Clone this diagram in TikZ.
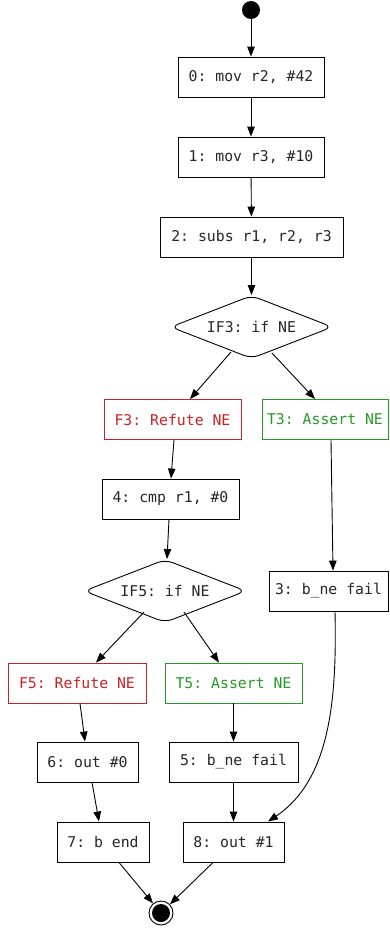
\documentclass[tikz,border=0pt]{standalone}
\usepackage{fontspec}
\setmonofont{DejaVu Sans Mono}
\usetikzlibrary{arrows.meta,shapes.geometric}
\definecolor{refred}{HTML}{C82222}
\definecolor{refgreen}{HTML}{259A25}
\tikzset{
  op/.style={draw, rectangle, line width=0.9pt, minimum height=40pt, inner sep=0pt,
             font=\ttfamily\fontsize{14.8}{14.8}\selectfont, text=black!85},
  cond/.style={draw, diamond, aspect=3, rounded corners=8pt, minimum width=162pt,
             minimum height=63pt, inner sep=0pt, line width=0.9pt,
             font=\ttfamily\fontsize{14.8}{14.8}\selectfont, text=black!85},
  falsebox/.style={op, draw=refred, text=refred},
  truebox/.style={op, draw=refgreen, text=refgreen},
  flow/.style={line width=0.9pt, -{Triangle[length=10pt,width=7.5pt]}},
}
\begin{document}
\begin{tikzpicture}[x=1pt,y=-1pt]
\useasboundingbox (0,0) rectangle (390,930);

% entry and exit markers
\node[circle, fill=black, minimum size=18pt, inner sep=0pt] (start) at (251,10) {};
\node[circle, draw, line width=0.9pt, minimum size=24pt, inner sep=0pt] (stop) at (161,913) {};
\fill (stop.center) circle (9pt);

% instruction boxes
\node[op, minimum width=146pt] (n0) at (251,77) {0: mov r2, \#42};
\node[op, minimum width=146pt] (n1) at (251,157) {1: mov r3, \#10};
\node[op, minimum width=183pt] (n2) at (251.5,237) {2: subs r1, r2, r3};
\node[cond] (if3) at (251.5,327) {IF3: if NE};
\node[falsebox, minimum width=137pt] (f3) at (172.5,419.5) {F3: Refute NE};
\node[truebox, minimum width=126pt] (t3) at (325,419.5) {T3: Assert NE};
\node[op, minimum width=137pt] (n4) at (170.5,499) {4: cmp r1, \#0};
\node[cond] (if5) at (165,591) {IF5: if NE};
\node[op, minimum width=119pt] (n3) at (328.5,591) {3: b\_ne fail};
\node[falsebox, minimum width=138pt] (f5) at (77,683) {F5: Refute NE};
\node[truebox, minimum width=137pt] (t5) at (233.5,683) {T5: Assert NE};
\node[op, minimum width=101pt] (n6) at (87.5,762) {6: out \#0};
\node[op, minimum width=129pt] (n5) at (233.5,762) {5: b\_ne fail};
\node[op, minimum width=92pt] (n7) at (103,842) {7: b end};
\node[op, minimum width=101pt] (n8) at (233.5,842) {8: out \#1};

% control flow
\draw[flow] (start) -- (n0);
\draw[flow] (n0) -- (n1);
\draw[flow] (n1) -- (n2);
\draw[flow] (n2) -- (if3);
\draw[flow] (231,352) -- (f3.north -| 190,0);
\draw[flow] (272,353) -- (t3.north -| 315,0);
\draw[flow] (f3.south -| 174,0) -- (n4.north -| 171,0);
\draw[flow] (n4.south -| 169,0) -- (if5.north -| 167,0);
\draw[flow] (144,612) -- (f5.north -| 96,0);
\draw[flow] (184,612) -- (t5.north -| 219,0);
\draw[flow] (t3.south -| 331,0) -- (n3.north -| 333,0);
\draw[flow] (n3.south -| 335,0) .. controls (337,700) and (330,780) .. (n8.north -| 268,0);
\draw[flow] (f5.south -| 80,0) -- (n6.north -| 85,0);
\draw[flow] (n6.south -| 92,0) -- (n7.north -| 99,0);
\draw[flow] (t5) -- (n5);
\draw[flow] (n5) -- (n8);
\draw[flow] (n7.south -| 119,0) -- (stop);
\draw[flow] (n8.south -| 213,0) -- (stop);
\end{tikzpicture}
\end{document}
